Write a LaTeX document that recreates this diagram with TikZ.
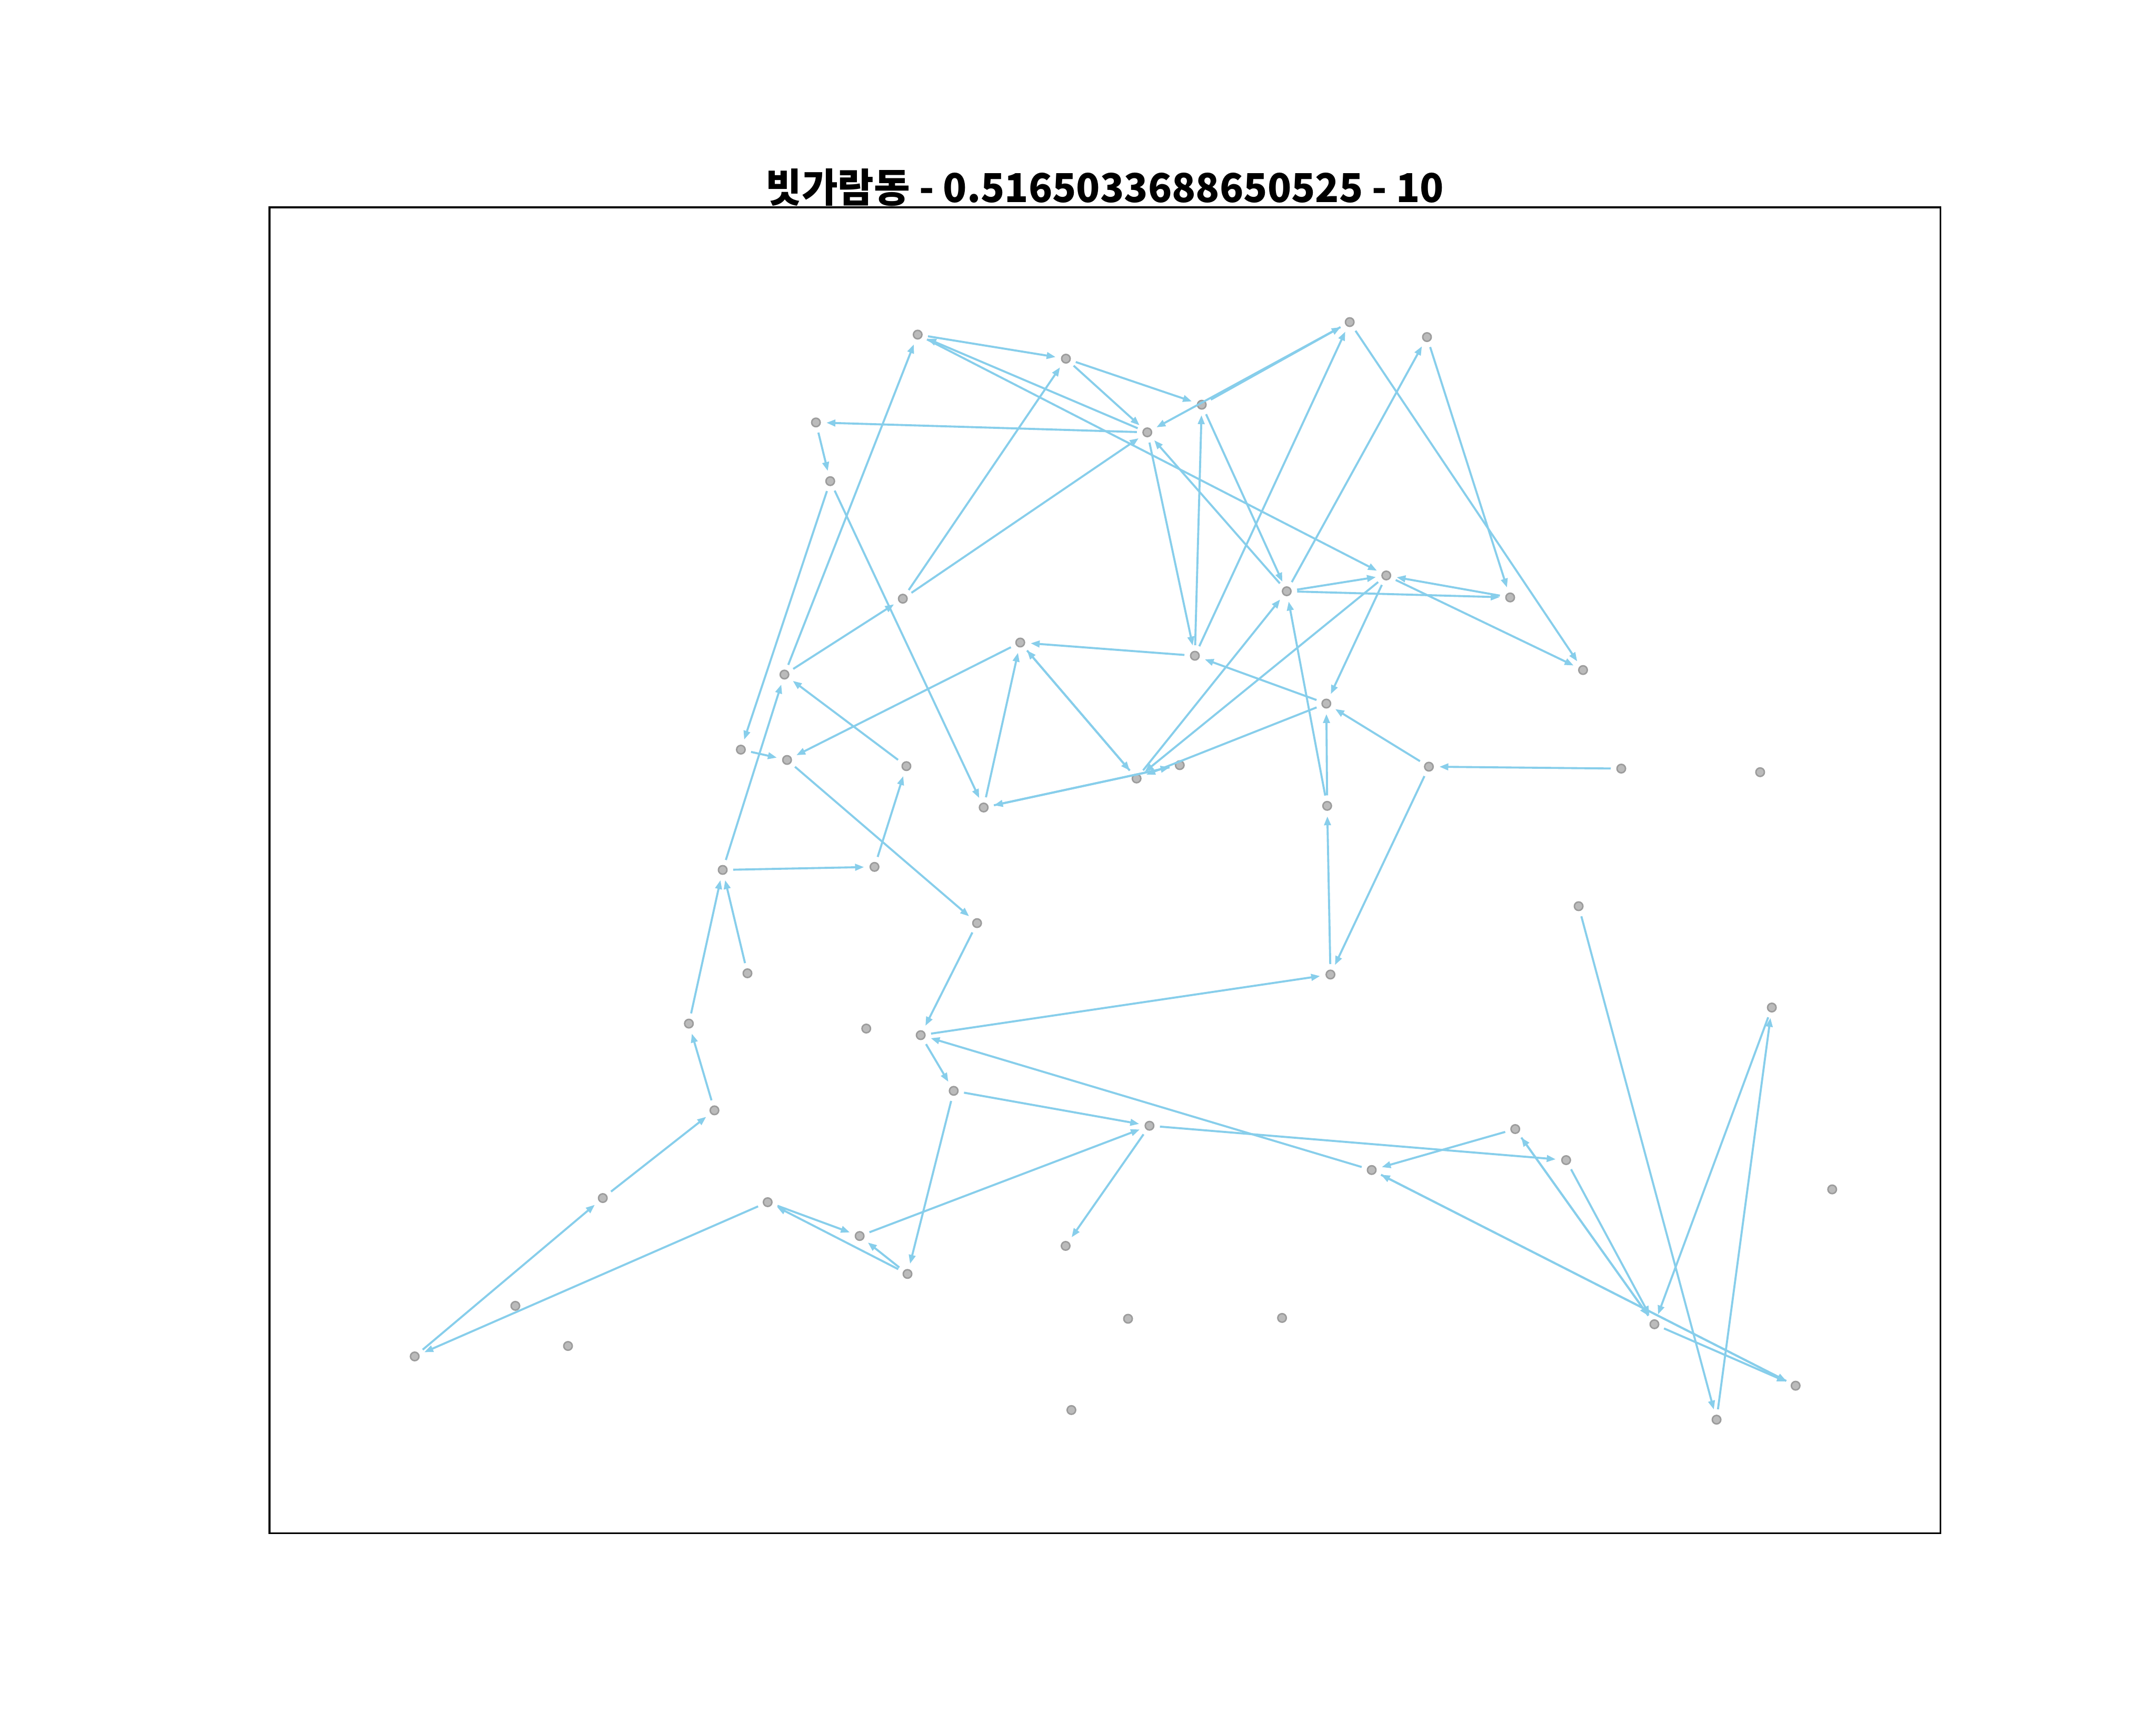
\documentclass[tikz,border=0pt]{standalone}
\usepackage{fontspec}
\newfontfamily\krfont{Noto Sans CJK KR}
\usetikzlibrary{arrows.meta}
\definecolor{edgeblue}{HTML}{87CEEB}
\definecolor{nodefill}{HTML}{BBBBBB}
\definecolor{nodeline}{HTML}{9C9C9C}
\tikzset{
  vtx/.style={circle, fill=nodefill, draw=nodeline, line width=0.3pt, inner sep=0pt, minimum size=0.062cm, outer sep=0.045cm},
  edge/.style={draw=edgeblue, line width=0.42pt, -{Triangle[length=0.065cm,width=0.048cm]}},
  frame/.style={draw=black, line width=0.35pt}
}
\begin{document}
\begin{tikzpicture}[x=0.01cm, y=-0.01cm]
\useasboundingbox (0,0) rectangle (1568,1254);
\fill[white] (0,0) rectangle (1568,1254);
\draw[frame] (196,150.8) rectangle (1411.2,1115.2);
\node[anchor=base, inner sep=0pt] (title) at (803.5,147) {\resizebox{4.93cm}{0.245cm}{\krfont\bfseries 빗가람동 - 0.5165033688650525 - 10}};
% nodes
\node[vtx] (nA) at (667.4,243.4) {};
\node[vtx] (nB) at (775.2,260.9) {};
\node[vtx] (nC) at (874.0,294.4) {};
\node[vtx] (nD) at (834.4,314.5) {};
\node[vtx] (nE) at (981.6,234.3) {};
\node[vtx] (nF) at (1037.8,245.2) {};
\node[vtx] (nG) at (593.4,307.3) {};
\node[vtx] (nH) at (603.8,350.0) {};
\node[vtx] (nI) at (656.6,435.5) {};
\node[vtx] (nJ) at (935.8,430.1) {};
\node[vtx] (nK) at (1008.2,418.6) {};
\node[vtx] (nL) at (1098.3,434.6) {};
\node[vtx] (nM) at (1151.3,487.4) {};
\node[vtx] (nN) at (742.0,467.4) {};
\node[vtx] (nO) at (869.0,477.0) {};
\node[vtx] (nP) at (964.6,511.8) {};
\node[vtx] (nQ) at (570.5,490.7) {};
\node[vtx] (nR) at (538.8,545.3) {};
\node[vtx] (nS) at (572.4,552.8) {};
\node[vtx] (nT) at (659.2,557.3) {};
\node[vtx] (nU) at (715.4,587.4) {};
\node[vtx] (nV) at (826.6,566.3) {};
\node[vtx] (nW) at (858.0,556.6) {};
\node[vtx] (nX) at (1039.2,557.7) {};
\node[vtx] (nY) at (1179.1,559.1) {};
\node[vtx] (nZ) at (1280.1,561.7) {};
\node[vtx] (nPb) at (965.2,586.2) {};
\node[vtx] (na) at (525.6,632.8) {};
\node[vtx] (nb) at (636.0,630.6) {};
\node[vtx] (nc) at (710.6,671.5) {};
\node[vtx] (nd) at (1148.1,659.2) {};
\node[vtx] (ne) at (543.6,708.0) {};
\node[vtx] (nf) at (967.6,708.9) {};
\node[vtx] (ng) at (1288.6,732.9) {};
\node[vtx] (nh) at (501.0,744.6) {};
\node[vtx] (ni) at (630.0,748.2) {};
\node[vtx] (nj) at (669.6,753.0) {};
\node[vtx] (nk) at (693.6,793.5) {};
\node[vtx] (nl) at (519.6,807.7) {};
\node[vtx] (nm) at (836.0,818.9) {};
\node[vtx] (nn) at (1102.0,821.3) {};
\node[vtx] (no) at (1139.0,843.9) {};
\node[vtx] (np) at (997.6,851.1) {};
\node[vtx] (nq) at (1332.5,865.2) {};
\node[vtx] (nr) at (438.4,871.5) {};
\node[vtx] (ns) at (558.3,874.5) {};
\node[vtx] (nt) at (625.2,899.1) {};
\node[vtx] (nu) at (775.0,906.3) {};
\node[vtx] (nv) at (660.0,926.7) {};
\node[vtx] (nw) at (374.8,949.9) {};
\node[vtx] (nx) at (820.4,959.3) {};
\node[vtx] (ny) at (932.4,958.7) {};
\node[vtx] (nz) at (1203.2,963.3) {};
\node[vtx] (naa) at (413.1,979.1) {};
\node[vtx] (nbb) at (301.6,986.7) {};
\node[vtx] (ncc) at (1305.9,1008.0) {};
\node[vtx] (ndd) at (779.2,1025.7) {};
\node[vtx] (nee) at (1248.4,1032.7) {};
% edges
\foreach \s/\t in {nA/nB, nB/nC, nB/nD, nE/nD, nC/nE, nD/nA, nA/nK, nD/nG, nG/nH,
  nC/nJ, nO/nC, nD/nO, nJ/nD, nO/nE, nE/nM, nJ/nF, nF/nL, nJ/nK, nJ/nL, nL/nK,
  nK/nM, nK/nV, nK/nP, nV/nJ, nPb/nJ, nPb/nP, nf/nPb, nP/nV, nP/nO, nX/nP, nY/nX,
  nX/nf, nj/nf, nO/nN, nU/nN, nN/nV, nV/nN, nN/nS, nQ/nA, nQ/nI, nI/nB, nI/nD,
  nH/nR, nH/nU, nT/nQ, na/nQ, nR/nS, nS/nc, na/nb, nb/nT, nc/nj, ne/na, nh/na,
  nU/nW, nW/nU, nl/nh, nr/nl, nbb/nr, ns/nbb, ns/nt, nv/ns, nv/nt, nt/nm, nk/nv,
  nj/nk, nk/nm, nm/nu, nm/no, np/nj, nn/np, nn/nz, nz/nn, no/nz, ng/nz, nee/ng,
  nd/nee, nz/ncc, np/ncc, ncc/np}
  \draw[edge] (\s) -- (\t);
\end{tikzpicture}
\end{document}
